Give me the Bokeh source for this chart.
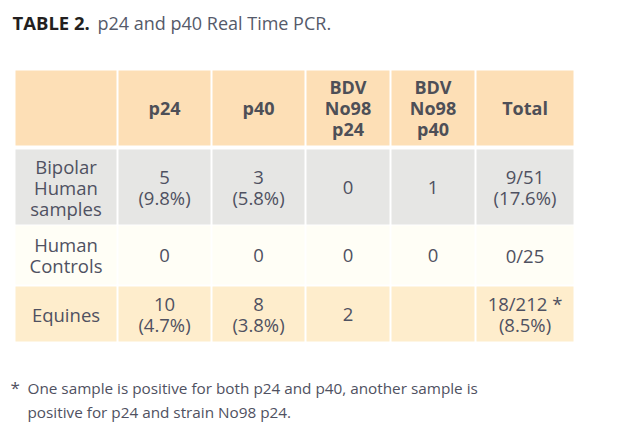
from bokeh.plotting import figure
from bokeh.models import Range1d
from bokeh.core.properties import value
from bokeh.embed import file_html
from bokeh.resources import INLINE

# ---- data ----
col_headers = ["", "p24", "p40", "BDV\nNo98\np24", "BDV\nNo98\np40", "Total"]
row_labels = ["Bipolar\nHuman\nsamples", "Human\nControls", "Equines"]
p24_n = [5, 0, 10]
p24_pct = [9.8, None, 4.7]
p40_n = [3, 0, 8]
p40_pct = [5.8, None, 3.8]
no98_p24 = [0, 0, 2]
no98_p40 = [1, 0, None]
total_pos = [9, 0, 18]
total_n = [51, 25, 212]
total_pct = [17.6, None, 8.5]
total_mark = ["", "", " *"]
title_bold = "TABLE 2."
title_rest = "p24 and p40 Real Time PCR."
footnote_mark = "*"
footnote_lines = ["One sample is positive for both p24 and p40, another sample is",
                  "positive for p24 and strain No98 p24."]

# ---- layout (page pixels) ----
col_l = [15, 118, 212, 306, 391, 476]
col_r = [116, 210, 304, 389, 474, 573]
row_t = [70, 149, 225, 286]
row_b = [145, 224, 284, 341]
row_fill = ["#fddfb6", "#e6e6e4", "#fffef6", "#feedcc"]
FONT = "Open Sans"
TXT = "#4f5161"

def fmt(n, pct, mark=""):
    if n is None:
        return ""
    s = f"{n}{mark}"
    if pct is not None:
        s += f"\n({pct}%)"
    return s

cells = []
for i in range(3):
    cells.append([row_labels[i],
                  fmt(p24_n[i], p24_pct[i]),
                  fmt(p40_n[i], p40_pct[i]),
                  fmt(no98_p24[i], None),
                  fmt(no98_p40[i], None),
                  fmt(f"{total_pos[i]}/{total_n[i]}", total_pct[i], total_mark[i])])

p = figure(width=606, height=432, output_backend="svg", toolbar_location=None,
           x_range=Range1d(0, 606), y_range=Range1d(432, 0),
           min_border=0, outline_line_color=None)
p.axis.visible = False
p.grid.visible = False
p.background_fill_color = "white"
p.border_fill_color = "white"

# cells
L, R, T, B, F = [], [], [], [], []
for r in range(4):
    for c in range(6):
        L.append(col_l[c]); R.append(col_r[c]); T.append(row_t[r]); B.append(row_b[r]); F.append(row_fill[r])
p.quad(left=L, right=R, top=T, bottom=B, fill_color=F, line_color=None)

# header text
hx = [(col_l[c] + col_r[c]) / 2 for c in range(6)]
hy = [(row_t[0] + row_b[0]) / 2] * 6
p.text(x=hx, y=hy, text=col_headers, text_font=value(FONT), text_font_style="bold",
       text_font_size="18px", text_color="#4e4f57", text_align="center",
       text_baseline="middle", text_line_height=0.855)

# body text
bx, by, bt = [], [], []
for r in range(3):
    for c in range(6):
        bx.append((col_l[c] + col_r[c]) / 2)
        by.append((row_t[r + 1] + row_b[r + 1]) / 2)
        bt.append(cells[r][c])
p.text(x=bx, y=by, text=bt, text_font=value(FONT), text_font_size="18.5px",
       text_color=TXT, text_align="center", text_baseline="middle", text_line_height=0.84)

# title
p.text(x=[12], y=[22], text=[title_bold], text_font=value(FONT), text_font_style="bold",
       text_font_size="18.5px", text_color="#231f20", text_baseline="middle")
p.text(x=[97], y=[22], text=[title_rest], text_font=value(FONT),
       text_font_size="18px", text_color="#555a6a", text_baseline="middle")

# footnote
p.text(x=[10], y=[387], text=[footnote_mark], text_font=value(FONT),
       text_font_size="17px", text_color=TXT, text_baseline="middle")
p.text(x=[27, 27], y=[387.5, 411], text=footnote_lines, text_font=value(FONT),
       text_font_size="15.3px", text_color=TXT, text_baseline="middle")

open("out.html", "w").write(file_html(p, INLINE))
